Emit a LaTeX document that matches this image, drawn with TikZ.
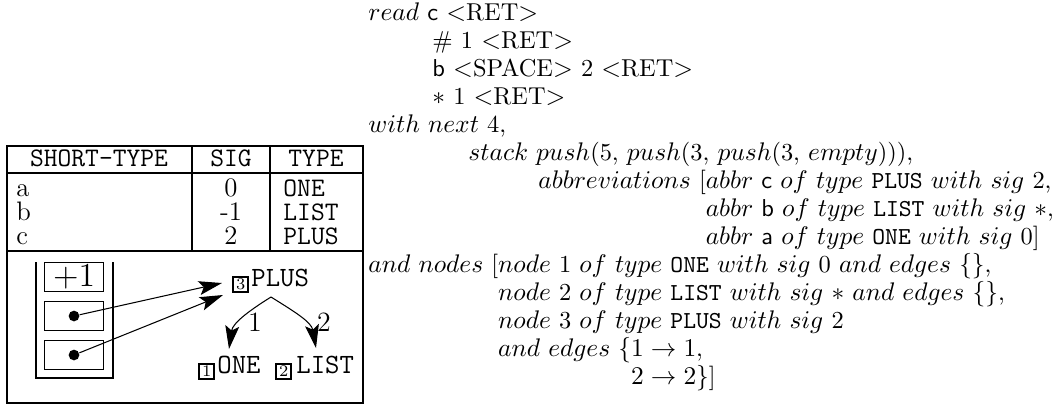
\documentclass[tikz,border=0pt]{standalone}
\usetikzlibrary{arrows.meta,calc}
\newcommand\RET{$<$RET$>$}
\begin{document}
\begin{tikzpicture}[x=0.43pt,y=-0.43pt,
  rule/.style={line width=0.85pt},
  thin/.style={line width=0.45pt},
  cell/.style={inner sep=0pt, anchor=base, font=\fontsize{11.5}{14}\selectfont},
  cellw/.style={cell, anchor=base west},
  code/.style={inner sep=0pt, anchor=base west, font=\fontsize{10.5}{12}\selectfont},
  tag/.style={draw, line width=0.7pt, minimum size=6.4pt, inner sep=0pt,
              font=\fontsize{7}{7}\selectfont},
  gnode/.style={inner sep=0pt, anchor=base west, font=\fontsize{12}{14}\selectfont\ttfamily},
  ptr/.style={thin, -{Stealth[length=10pt,width=6pt,inset=2pt]}},
  dot/.style={circle, fill, inner sep=0pt, minimum size=4.6pt}]
\useasboundingbox (0,0) rectangle (1063,411);

% ---- abbreviation table ----
\draw[rule] (7,146) rectangle (363,403);
\draw[rule] (7,173) -- (363,173);
\draw[rule] (7,251) -- (363,251);
\draw[rule] (192,146) -- (192,251);
\draw[rule] (270,146) -- (270,251);

\node[cell] (hs) at (99,166) {\ttfamily SHORT-TYPE};
\node[cell] (hg) at (231,166) {\ttfamily SIG};
\node[cell] (ht) at (316,166) {\ttfamily TYPE};

\node[cellw] (ra) at (16,196) {a};
\node[cellw] (rb) at (16,220) {b};
\node[cellw] (rc) at (16,244) {c};
\node[cell]  (sa) at (231,196) {0};
\node[cell]  (sb) at (231,220) {-1};
\node[cell]  (sc) at (231,244) {2};
\node[cellw] (ta) at (283,196) {\ttfamily ONE};
\node[cellw] (tb) at (283,220) {\ttfamily LIST};
\node[cellw] (tc) at (283,244) {\ttfamily PLUS};

% ---- stack ----
\draw[thin] (36,262) -- (36,378) -- (113,378) -- (113,262);
\node[draw, thin, minimum width=25pt, minimum height=12.5pt, inner sep=0pt,
      font=\fontsize{14.4}{16}\selectfont] (s1) at (74,277) {$+1$};
\node[draw, thin, minimum width=25pt, minimum height=12.5pt, inner sep=0pt] (s2) at (74,316) {};
\node[draw, thin, minimum width=25pt, minimum height=12.5pt, inner sep=0pt] (s3) at (74,355) {};
\node[dot] (d1) at (s2.center) {};
\node[dot] (d2) at (s3.center) {};

% ---- graph ----
\node[gnode] (plus) at (251,286) {PLUS};
\node[tag, anchor=north east] (k3) at ($(plus.base west)+(-2,-10)$) {3};
\node[gnode] (one) at (217,373) {ONE};
\node[tag, anchor=north east] (k1) at ($(one.base west)+(-2,-10)$) {1};
\node[gnode] (list) at (296,373) {LIST};
\node[tag, anchor=north east] (k2) at ($(list.base west)+(-4,-10)$) {2};

\coordinate (t1) at (222,283);
\coordinate (t2) at (223,295);
\draw[ptr] (d1) -- (t1);
\draw[ptr] (d2) -- (t2);

\coordinate (ap) at (271,297);
\coordinate (e1) at (229,349);
\coordinate (e2) at (316,348);
\draw[ptr] (ap) to[out=212,in=82] (e1);
\draw[ptr] (ap) to[out=-32,in=100] (e2);
\node[inner sep=0pt, font=\fontsize{12}{14}\selectfont] (n1) at (255,322) {1};
\node[inner sep=0pt, font=\fontsize{12}{14}\selectfont] (n2) at (324,322) {2};

% ---- configuration text ----
\node[code] (l0) at (368,20) {$read$ \textsf{c} \RET};
\node[code] (l1) at (432,48) {\# 1 \RET};
\node[code] (l2) at (432,76) {\textsf{b} $<$SPACE$>$ 2 \RET};
\node[code] (l3) at (432,104) {$*$ 1 \RET};
\node[code] (l4) at (368,132) {$with$ $next$ 4,};
\node[code] (l5) at (468,160) {$stack$ $push$(5, $push$(3, $push$(3, $empty$))),};
\node[code] (l6) at (538,188) {$abbreviations$ [$abbr$ \textsf{c} $of$ $type$ \texttt{PLUS} $with$ $sig$ 2,};
\node[code] (l7) at (538,216) {\hphantom{$abbreviations$ [}$abbr$ \textsf{b} $of$ $type$ \texttt{LIST} $with$ $sig$ $*$,};
\node[code] (l8) at (538,244) {\hphantom{$abbreviations$ [}$abbr$ \textsf{a} $of$ $type$ \texttt{ONE} $with$ $sig$ 0]};
\node[code] (l9) at (368,272) {$and$ $nodes$ [$node$ 1 $of$ $type$ \texttt{ONE} $with$ $sig$ 0 $and$ $edges$ $\{\}$,};
\node[code] (l10) at (368,300) {\hphantom{$and$ $nodes$ [}$node$ 2 $of$ $type$ \texttt{LIST} $with$ $sig$ $*$ $and$ $edges$ $\{\}$,};
\node[code] (l11) at (368,328) {\hphantom{$and$ $nodes$ [}$node$ 3 $of$ $type$ \texttt{PLUS} $with$ $sig$ 2};
\node[code] (l12) at (368,356) {\hphantom{$and$ $nodes$ [}$and$ $edges$ $\{1\rightarrow 1$,};
\node[code] (l13) at (368,384) {\hphantom{$and$ $nodes$ [$and$ $edges$ $\{$}$2\rightarrow 2\}$]};
\end{tikzpicture}
\end{document}
